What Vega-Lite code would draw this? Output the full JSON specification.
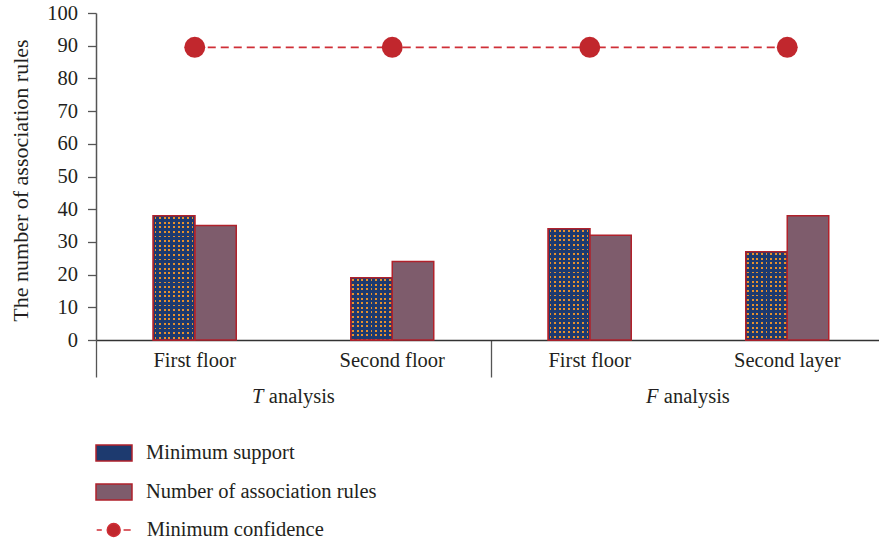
{
  "$schema": "https://vega.github.io/schema/vega-lite/v6.json",
  "width": 783,
  "height": 327,
  "autosize": {"type": "none"},
  "padding": {"left": 96, "top": 13, "right": 0, "bottom": 204},
  "background": "white",
  "config": {
    "font": "Liberation Serif",
    "view": {"stroke": null},
    "text": {"font": "Liberation Serif", "fontSize": 20.5, "color": "#231f20"}
  },
  "params": [
    {"name": "dotBase", "value": "#1d3a6f"},
    {"name": "dotGap", "value": "rgba(29,58,111,0)"}
  ],
  "datasets": {
    "bars": [
      {"cat": "T|First floor", "series": "Minimum support", "value": 38},
      {"cat": "T|First floor", "series": "Number of association rules", "value": 35},
      {"cat": "T|Second floor", "series": "Minimum support", "value": 19},
      {"cat": "T|Second floor", "series": "Number of association rules", "value": 24},
      {"cat": "F|First floor", "series": "Minimum support", "value": 34},
      {"cat": "F|First floor", "series": "Number of association rules", "value": 32},
      {"cat": "F|Second layer", "series": "Minimum support", "value": 27},
      {"cat": "F|Second layer", "series": "Number of association rules", "value": 38}
    ],
    "confidence": [
      {"cat": "T|First floor", "series": "Minimum confidence", "value": 89.5},
      {"cat": "T|Second floor", "series": "Minimum confidence", "value": 89.5},
      {"cat": "F|First floor", "series": "Minimum confidence", "value": 89.5},
      {"cat": "F|Second layer", "series": "Minimum confidence", "value": 89.5}
    ],
    "groups": [
      {"letter": "T", "word": "analysis", "at": "T|Second floor"},
      {"letter": "F", "word": "analysis", "at": "F|Second layer"}
    ]
  },
  "encoding": {
    "x": {
      "field": "cat",
      "type": "nominal",
      "scale": {
        "domain": ["T|First floor", "T|Second floor", "F|First floor", "F|Second layer"],
        "range": [0, 790],
        "paddingInner": 0,
        "paddingOuter": 0
      },
      "axis": {
        "title": null,
        "bandPosition": 0,
        "labelExpr": "split(datum.value, '|')[1]",
        "labelAngle": 0,
        "labelFont": "Liberation Serif",
        "labelFontSize": 20.5,
        "labelColor": "#231f20",
        "labelBaseline": "alphabetic",
        "labelPadding": -11,
        "tickSize": 37,
        "tickColor": "#555555",
        "tickWidth": 1.3,
        "tickOpacity": {"condition": {"test": "indexof(['T|First floor', 'F|First floor'], datum.value) >= 0", "value": 1}, "value": 0},
        "domainColor": "#333333",
        "domainWidth": 1.5
      }
    }
  },
  "layer": [
    {
      "data": {"name": "bars"},
      "mark": {"type": "bar", "stroke": "#b0212b", "strokeWidth": 1.5},
      "encoding": {
        "y": {
          "field": "value",
          "type": "quantitative",
          "scale": {"domain": [0, 100]},
          "axis": {
            "title": "The number of association rules",
            "values": [0, 10, 20, 30, 40, 50, 60, 70, 80, 90, 100],
            "labelOverlap": false,
            "grid": false,
            "tickSize": 8.5,
            "tickColor": "#555555",
            "tickWidth": 1.3,
            "domainColor": "#555555",
            "domainWidth": 1.5,
            "labelFont": "Liberation Serif",
            "labelFontSize": 20.5,
            "labelColor": "#231f20",
            "labelPadding": 10,
            "titleFont": "Liberation Serif",
            "titleFontSize": 22,
            "titleFontWeight": "normal",
            "titleColor": "#231f20",
            "titleX": -69,
            "titleY": 167,
            "titleAngle": 270,
            "titleAlign": "center",
            "titleBaseline": "alphabetic"
          }
        },
        "xOffset": {
          "field": "series",
          "type": "nominal",
          "scale": {"domain": ["Minimum support", "Number of association rules"], "range": [57.25, 140.25], "paddingInner": 0, "paddingOuter": 0}
        },
        "fill": {
          "field": "series",
          "type": "nominal",
          "scale": {"domain": ["Minimum support", "Number of association rules"], "range": ["#1d3a6f", "#7e5c6c"]},
          "legend": {
            "title": null,
            "orient": "none",
            "legendX": -1,
            "legendY": 421,
            "direction": "vertical",
            "padding": 0,
            "rowPadding": 8,
            "symbolType": "M-1,-0.45H1V0.45H-1Z",
            "symbolSize": 1296,
            "symbolStrokeColor": "#b0212b",
            "symbolStrokeWidth": 1.5,
            "labelFont": "Liberation Serif",
            "labelFontSize": 20.5,
            "labelColor": "#231f20",
            "labelOffset": 13,
            "labelLimit": 0
          }
        }
      }
    },
    {
      "data": {"name": "bars"},
      "transform": [{"filter": "datum.series === 'Minimum support'"}],
      "mark": {
        "type": "bar",
        "fill": {
          "gradient": "linear", "x1": 0, "y1": 0, "x2": 1, "y2": 0,
          "stops": [
            {"offset": 0.0333, "color": "rgba(232,145,43,0)"}, {"offset": 0.0333, "color": "#e8912b"}, {"offset": 0.0778, "color": "#e8912b"}, {"offset": 0.0778, "color": "rgba(232,145,43,0)"},
            {"offset": 0.1444, "color": "rgba(232,145,43,0)"}, {"offset": 0.1444, "color": "#e8912b"}, {"offset": 0.1889, "color": "#e8912b"}, {"offset": 0.1889, "color": "rgba(232,145,43,0)"},
            {"offset": 0.2556, "color": "rgba(232,145,43,0)"}, {"offset": 0.2556, "color": "#e8912b"}, {"offset": 0.3, "color": "#e8912b"}, {"offset": 0.3, "color": "rgba(232,145,43,0)"},
            {"offset": 0.3667, "color": "rgba(232,145,43,0)"}, {"offset": 0.3667, "color": "#e8912b"}, {"offset": 0.4111, "color": "#e8912b"}, {"offset": 0.4111, "color": "rgba(232,145,43,0)"},
            {"offset": 0.4778, "color": "rgba(232,145,43,0)"}, {"offset": 0.4778, "color": "#e8912b"}, {"offset": 0.5222, "color": "#e8912b"}, {"offset": 0.5222, "color": "rgba(232,145,43,0)"},
            {"offset": 0.5889, "color": "rgba(232,145,43,0)"}, {"offset": 0.5889, "color": "#e8912b"}, {"offset": 0.6333, "color": "#e8912b"}, {"offset": 0.6333, "color": "rgba(232,145,43,0)"},
            {"offset": 0.7, "color": "rgba(232,145,43,0)"}, {"offset": 0.7, "color": "#e8912b"}, {"offset": 0.7444, "color": "#e8912b"}, {"offset": 0.7444, "color": "rgba(232,145,43,0)"},
            {"offset": 0.8111, "color": "rgba(232,145,43,0)"}, {"offset": 0.8111, "color": "#e8912b"}, {"offset": 0.8556, "color": "#e8912b"}, {"offset": 0.8556, "color": "rgba(232,145,43,0)"},
            {"offset": 0.9222, "color": "rgba(232,145,43,0)"}, {"offset": 0.9222, "color": "#e8912b"}, {"offset": 0.9667, "color": "#e8912b"}, {"offset": 0.9667, "color": "rgba(232,145,43,0)"}
          ]
        }
      },
      "encoding": {
        "y": {"field": "value", "type": "quantitative", "axis": {"title": "The number of association rules", "values": [0, 10, 20, 30, 40, 50, 60, 70, 80, 90, 100], "labelOverlap": false}},
        "xOffset": {"field": "series", "type": "nominal"}
      }
    },
    {
      "data": {"name": "bars"},
      "transform": [{"filter": "datum.series === 'Minimum support'"}],
      "mark": {"type": "bar", "stroke": "#b0212b", "strokeWidth": 1.5},
      "encoding": {
        "y": {"field": "value", "type": "quantitative", "axis": {"title": "The number of association rules", "values": [0, 10, 20, 30, 40, 50, 60, 70, 80, 90, 100], "labelOverlap": false}},
        "xOffset": {"field": "series", "type": "nominal"},
        "fill": {"value": {"expr": "{gradient: 'linear', x1: 1, y1: 0, x2: 1, y2: 38 / datum.value, stops: [{offset: 0.0111, color: dotBase}, {offset: 0.0111, color: dotGap}, {offset: 0.0259, color: dotGap}, {offset: 0.0259, color: dotBase}, {offset: 0.0481, color: dotBase}, {offset: 0.0481, color: dotGap}, {offset: 0.063, color: dotGap}, {offset: 0.063, color: dotBase}, {offset: 0.0852, color: dotBase}, {offset: 0.0852, color: dotGap}, {offset: 0.1, color: dotGap}, {offset: 0.1, color: dotBase}, {offset: 0.1222, color: dotBase}, {offset: 0.1222, color: dotGap}, {offset: 0.137, color: dotGap}, {offset: 0.137, color: dotBase}, {offset: 0.1593, color: dotBase}, {offset: 0.1593, color: dotGap}, {offset: 0.1741, color: dotGap}, {offset: 0.1741, color: dotBase}, {offset: 0.1963, color: dotBase}, {offset: 0.1963, color: dotGap}, {offset: 0.2111, color: dotGap}, {offset: 0.2111, color: dotBase}, {offset: 0.2333, color: dotBase}, {offset: 0.2333, color: dotGap}, {offset: 0.2481, color: dotGap}, {offset: 0.2481, color: dotBase}, {offset: 0.2704, color: dotBase}, {offset: 0.2704, color: dotGap}, {offset: 0.2852, color: dotGap}, {offset: 0.2852, color: dotBase}, {offset: 0.3074, color: dotBase}, {offset: 0.3074, color: dotGap}, {offset: 0.3222, color: dotGap}, {offset: 0.3222, color: dotBase}, {offset: 0.3444, color: dotBase}, {offset: 0.3444, color: dotGap}, {offset: 0.3593, color: dotGap}, {offset: 0.3593, color: dotBase}, {offset: 0.3815, color: dotBase}, {offset: 0.3815, color: dotGap}, {offset: 0.3963, color: dotGap}, {offset: 0.3963, color: dotBase}, {offset: 0.4185, color: dotBase}, {offset: 0.4185, color: dotGap}, {offset: 0.4333, color: dotGap}, {offset: 0.4333, color: dotBase}, {offset: 0.4556, color: dotBase}, {offset: 0.4556, color: dotGap}, {offset: 0.4704, color: dotGap}, {offset: 0.4704, color: dotBase}, {offset: 0.4926, color: dotBase}, {offset: 0.4926, color: dotGap}, {offset: 0.5074, color: dotGap}, {offset: 0.5074, color: dotBase}, {offset: 0.5296, color: dotBase}, {offset: 0.5296, color: dotGap}, {offset: 0.5444, color: dotGap}, {offset: 0.5444, color: dotBase}, {offset: 0.5667, color: dotBase}, {offset: 0.5667, color: dotGap}, {offset: 0.5815, color: dotGap}, {offset: 0.5815, color: dotBase}, {offset: 0.6037, color: dotBase}, {offset: 0.6037, color: dotGap}, {offset: 0.6185, color: dotGap}, {offset: 0.6185, color: dotBase}, {offset: 0.6407, color: dotBase}, {offset: 0.6407, color: dotGap}, {offset: 0.6556, color: dotGap}, {offset: 0.6556, color: dotBase}, {offset: 0.6778, color: dotBase}, {offset: 0.6778, color: dotGap}, {offset: 0.6926, color: dotGap}, {offset: 0.6926, color: dotBase}, {offset: 0.7148, color: dotBase}, {offset: 0.7148, color: dotGap}, {offset: 0.7296, color: dotGap}, {offset: 0.7296, color: dotBase}, {offset: 0.7519, color: dotBase}, {offset: 0.7519, color: dotGap}, {offset: 0.7667, color: dotGap}, {offset: 0.7667, color: dotBase}, {offset: 0.7889, color: dotBase}, {offset: 0.7889, color: dotGap}, {offset: 0.8037, color: dotGap}, {offset: 0.8037, color: dotBase}, {offset: 0.8259, color: dotBase}, {offset: 0.8259, color: dotGap}, {offset: 0.8407, color: dotGap}, {offset: 0.8407, color: dotBase}, {offset: 0.863, color: dotBase}, {offset: 0.863, color: dotGap}, {offset: 0.8778, color: dotGap}, {offset: 0.8778, color: dotBase}, {offset: 0.9, color: dotBase}, {offset: 0.9, color: dotGap}, {offset: 0.9148, color: dotGap}, {offset: 0.9148, color: dotBase}, {offset: 0.937, color: dotBase}, {offset: 0.937, color: dotGap}, {offset: 0.9519, color: dotGap}, {offset: 0.9519, color: dotBase}, {offset: 0.9741, color: dotBase}, {offset: 0.9741, color: dotGap}, {offset: 0.9889, color: dotGap}, {offset: 0.9889, color: dotBase}]}"}}
      }
    },
    {
      "data": {"name": "confidence"},
      "mark": {"type": "line", "strokeDash": [8, 5], "strokeWidth": 1.6},
      "encoding": {
        "y": {"field": "value", "type": "quantitative", "axis": {"title": "The number of association rules", "values": [0, 10, 20, 30, 40, 50, 60, 70, 80, 90, 100], "labelOverlap": false}},
        "stroke": {
          "field": "series",
          "type": "nominal",
          "scale": {"domain": ["Minimum confidence"], "range": ["#cf2f37"]},
          "legend": {
            "title": null,
            "orient": "none",
            "legendX": -0.3,
            "legendY": 499,
            "padding": 0,
            "symbolType": "M-1,0H-0.7M0.58,0H1M-0.38,0A0.38,0.38,0,1,0,0.38,0A0.38,0.38,0,1,0,-0.38,0Z",
            "symbolSize": 1156,
            "symbolStrokeWidth": 1.5,
            "labelFont": "Liberation Serif",
            "labelFontSize": 20.5,
            "labelColor": "#231f20",
            "labelOffset": 15,
            "labelLimit": 0,
            "encode": {
              "symbols": {
                "update": {
                  "fill": {"value": "#c1272d"},
                  "stroke": {"value": "#c1272d"},
                  "strokeDash": {"value": []}
                }
              }
            }
          }
        }
      }
    },
    {
      "data": {"name": "confidence"},
      "mark": {"type": "point", "filled": true, "size": 440, "color": "#c1272d", "opacity": 1},
      "encoding": {
        "y": {"field": "value", "type": "quantitative", "axis": {"title": "The number of association rules", "values": [0, 10, 20, 30, 40, 50, 60, 70, 80, 90, 100], "labelOverlap": false}}
      }
    },
    {
      "data": {"name": "groups"},
      "mark": {"type": "text", "fontStyle": "italic", "align": "right", "baseline": "alphabetic", "dx": -30, "dy": 226.5},
      "encoding": {
        "x": {"field": "at", "type": "nominal", "bandPosition": 0},
        "text": {"field": "letter"}
      }
    },
    {
      "data": {"name": "groups"},
      "mark": {"type": "text", "align": "left", "baseline": "alphabetic", "dx": -24.7, "dy": 226.5},
      "encoding": {
        "x": {"field": "at", "type": "nominal", "bandPosition": 0},
        "text": {"field": "word"}
      }
    }
  ]
}
